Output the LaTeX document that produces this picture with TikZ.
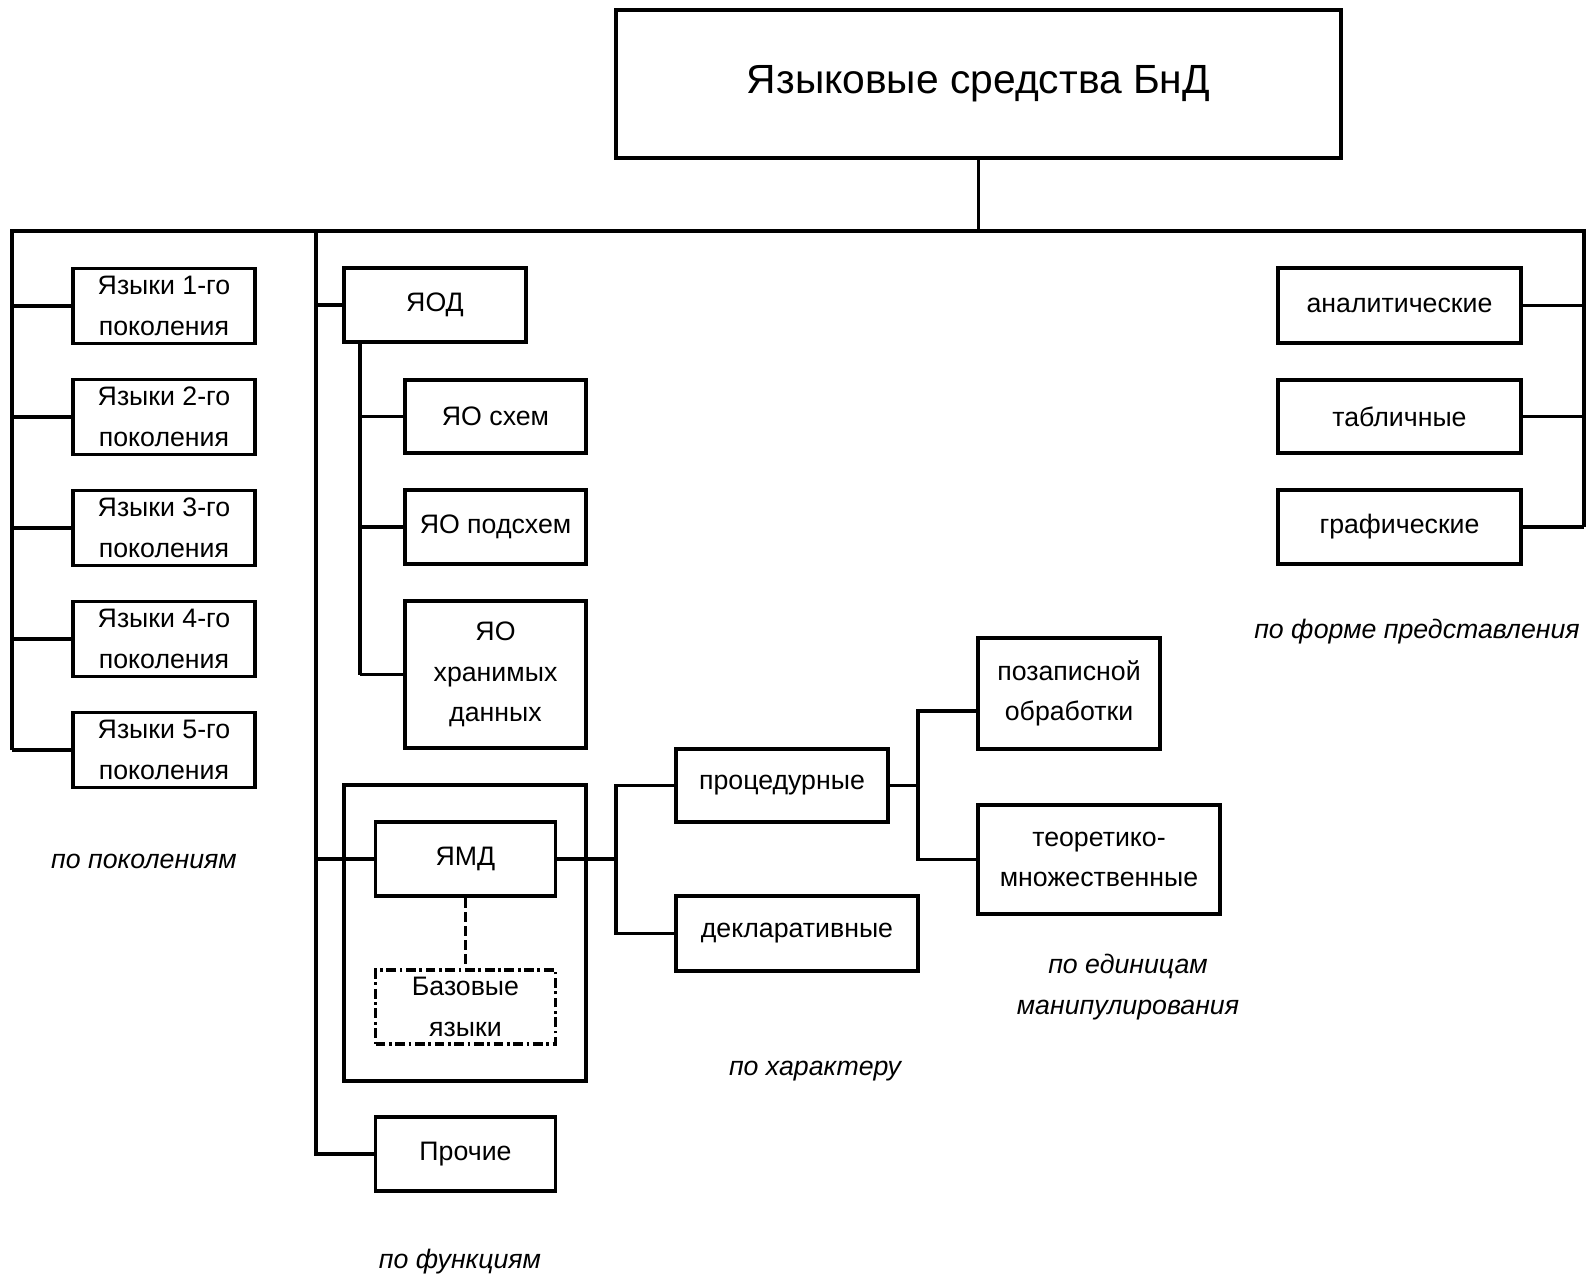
\documentclass[tikz,border=0pt]{standalone}
\usepackage{fontspec}
\setmainfont{Liberation Sans}
\usepackage{tikz}

\begin{document}
\begin{tikzpicture}[x=0.025cm,y=-0.025cm,
  box/.style={draw=black,line width=2.8pt,inner sep=2pt,align=center,
    font=\fontsize{19}{28.8}\selectfont},
  wh/.style 2 args={minimum width=#1*0.025cm,minimum height=#2*0.025cm},
  conn/.style={draw=black,line width=2.6pt},
  dashbox/.style={box,dash pattern=on 7pt off 2.5pt on 2pt off 2.5pt},
  dashline/.style={conn,dash pattern=on 7pt off 3pt},
  lbl/.style={font=\fontsize{19}{28.8}\selectfont\itshape,align=center}]
\useasboundingbox (0,0) rectangle (1587,1274);

% top
\node[box,wh={725}{148},font=\fontsize{29}{34}\selectfont] (top) at (978.5,84) {Языковые средства БнД};
\coordinate (busL) at (12,231);
\coordinate (busR) at (1584,231);
\coordinate (funx) at (316,231);

% po pokoleniyam
\foreach \i/\yy in {1/306,2/417,3/528,4/639,5/750}
  \node[box,wh={182}{75}] (yaz\i) at (164,\yy) {Языки \i-го\\поколения};
\node[lbl] (lpok) at (144,861) {по поколениям};

% po funkciyam
\node[box,wh={182}{74}] (yod) at (435,305) {ЯОД};
\node[box,wh={181}{73}] (yaosh) at (495.5,416.5) {ЯО схем};
\node[box,wh={181}{74}] (yaopod) at (495.5,527) {ЯО подсхем};
\node[box,wh={181}{147}] (yaohr) at (495.5,674.5) {ЯО\\хранимых\\данных};
\node[box,wh={242}{296}] (ymdframe) at (465,933) {};
\node[box,wh={180}{74}] (ymd) at (465.5,859) {ЯМД};
\node[dashbox,wh={180}{74}] (baz) at (465.5,1007) {Базовые\\языки};
\node[box,wh={180}{74}] (proch) at (465.5,1154) {Прочие};
\node[lbl] (lfun) at (460,1262) {по функциям};
\coordinate (yodx) at (360,342);

% po harakteru
\node[box,wh={212}{73}] (proc) at (782,785.5) {процедурные};
\node[box,wh={242}{75}] (decl) at (797,933.5) {декларативные};
\node[lbl] (lhar) at (815,1071) {по характеру};
\coordinate (harx) at (616,859);

% po edinicam
\node[box,wh={182}{111}] (pozap) at (1069,693.5) {позаписной\\обработки};
\node[box,wh={242}{109}] (teor) at (1099,859.5) {теоретико-\\множественные};
\node[lbl] (led) at (1128,987) {по единицам\\манипулирования};
\coordinate (edx) at (918,787);
\coordinate (pozapin) at ([yshift=-0.44cm]pozap.west);

% po forme
\node[box,wh={243}{75}] (anal) at (1399.5,305.5) {аналитические};
\node[box,wh={243}{73}] (tabl) at (1399.5,416.5) {табличные};
\node[box,wh={243}{74}] (graf) at (1399.5,527) {графические};
\node[lbl] (lform) at (1417,631.5) {по форме представления};

\draw[conn] (top.south) -- (top.south |- busL);
\draw[conn] (busL |- yaz5.west) -- (busL) -- (busR) -- (busR |- graf.east);
\foreach \i in {1,...,5}
  \draw[conn] (yaz\i.west) -- (yaz\i.west -| busL);

\draw[conn] (funx) -- (funx |- proch.west) -- (proch.west);
\draw[conn] (yod.west) -- (yod.west -| funx);
\draw[conn] (ymd.west) -- (ymd.west -| funx);
\draw[conn] (yodx) -- (yodx |- yaohr.west);
\foreach \n in {yaosh,yaopod,yaohr}
  \draw[conn] (\n.west) -- (\n.west -| yodx);
\draw[dashline] (ymd.south) -- (baz.north);

\draw[conn] (ymd.east) -- (ymd.east -| harx);
\draw[conn] (proc.west) -- (proc.west -| harx) -- (decl.west -| harx) -- (decl.west);

\draw[conn] (proc.east) -- (proc.east -| edx);
\draw[conn] (pozapin) -- (pozapin -| edx) -- (teor.west -| edx) -- (teor.west);

\foreach \n in {anal,tabl,graf}
  \draw[conn] (\n.east) -- (\n.east -| busR);
\end{tikzpicture}
\end{document}
